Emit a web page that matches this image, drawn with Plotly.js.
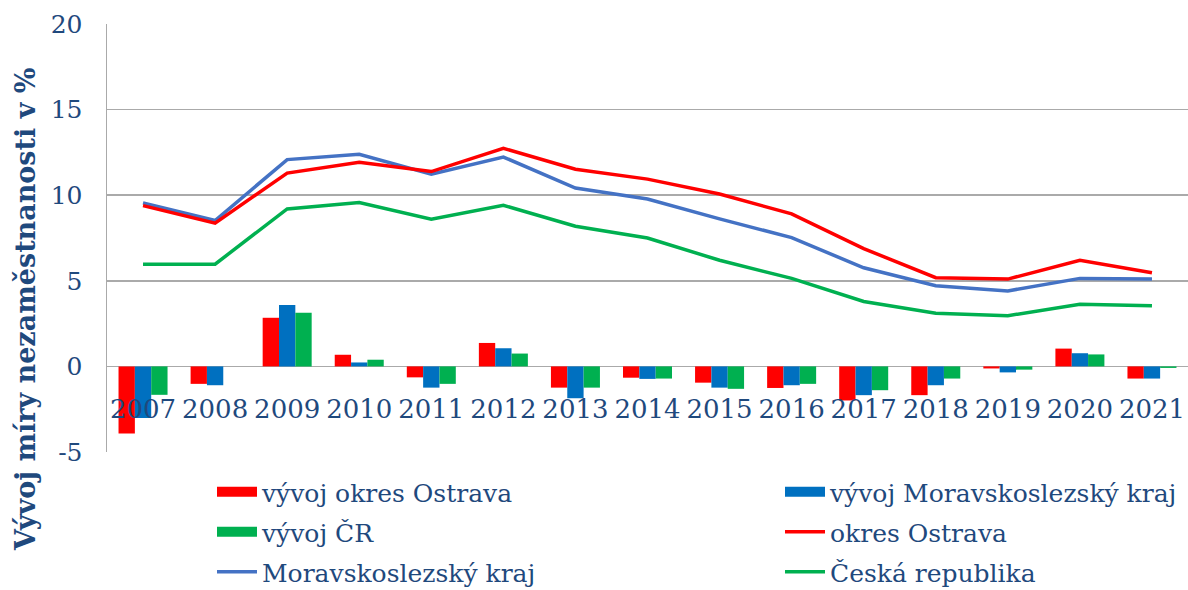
<!DOCTYPE html>
<html>
<head>
<meta charset="utf-8">
<script src="https://cdn.plot.ly/plotly-3.0.1.min.js"></script>
<style>html,body{margin:0;padding:0;background:#fff;}#chart{width:1188px;height:590px;}</style>
</head>
<body>
<div id="chart"></div>
<script>
var years = ['2007','2008','2009','2010','2011','2012','2013','2014','2015','2016','2017','2018','2019','2020','2021'];
var vyvojOstrava = [-3.92, -1.02, 2.84, 0.68, -0.64, 1.37, -1.24, -0.66, -0.95, -1.26, -1.99, -1.68, -0.12, 1.04, -0.71];
var vyvojMSK     = [-3.01, -1.10, 3.59, 0.23, -1.24, 1.06, -1.86, -0.73, -1.24, -1.10, -1.68, -1.10, -0.35, 0.77, -0.71];
var vyvojCR      = [-1.66, 0.00, 3.13, 0.39, -1.02, 0.75, -1.24, -0.71, -1.31, -1.02, -1.39, -0.71, -0.19, 0.70, -0.09];
var okresOstrava = [9.39, 8.37, 11.29, 11.92, 11.38, 12.74, 11.52, 10.94, 10.07, 8.91, 6.88, 5.18, 5.10, 6.20, 5.47];
var msKraj       = [9.55, 8.52, 12.08, 12.39, 11.23, 12.23, 10.42, 9.78, 8.62, 7.52, 5.76, 4.71, 4.41, 5.14, 5.10];
var ceskaRep     = [5.97, 5.97, 9.20, 9.57, 8.60, 9.41, 8.19, 7.50, 6.20, 5.14, 3.79, 3.11, 2.96, 3.63, 3.54];
var yTicks = [-5, 0, 5, 10, 15, 20];
var yTitle = 'Vývoj míry nezaměstnanosti v %';

var txt = '#1F497D';
var font = 'DejaVu Serif';
var grid = 'rgb(170,170,170)';

var traces = [
  {type:'bar', x: years, y: vyvojOstrava, name:'vývoj okres Ostrava', marker:{color:'#FF0000'}, showlegend:false},
  {type:'bar', x: years, y: vyvojMSK, name:'vývoj Moravskoslezský kraj', marker:{color:'#0070C0'}, showlegend:false},
  {type:'bar', x: years, y: vyvojCR, name:'vývoj ČR', marker:{color:'#00B050'}, showlegend:false},
  {type:'scatter', mode:'lines', x: years, y: msKraj, name:'Moravskoslezský kraj', line:{color:'#4472C4', width:3.5}, legend:'legend5'},
  {type:'scatter', mode:'lines', x: years, y: okresOstrava, name:'okres Ostrava', line:{color:'#FF0000', width:3.5}, legend:'legend4'},
  {type:'scatter', mode:'lines', x: years, y: ceskaRep, name:'Česká republika', line:{color:'#00B050', width:3.5}, legend:'legend6'},
  // legend entries for bar series (wide swatches)
  {type:'scatter', mode:'lines', x:[null], y:[null], name:'vývoj okres Ostrava', line:{color:'#FF0000', width:10}, legend:'legend'},
  {type:'scatter', mode:'lines', x:[null], y:[null], name:'vývoj Moravskoslezský kraj', line:{color:'#0070C0', width:10}, legend:'legend2'},
  {type:'scatter', mode:'lines', x:[null], y:[null], name:'vývoj ČR', line:{color:'#00B050', width:10}, legend:'legend3'}
];

var plotL = 107, plotR = 1188, plotT = 24, plotB = 452;
var pw = plotR - plotL, ph = plotB - plotT;
function px(x){ return (x - plotL) / pw; }
function py(y){ return (plotB - y) / ph; }

function leg(x, y){
  return {x: px(x), xanchor:'left', y: py(y), yanchor:'middle', orientation:'h',
    font:{family:font, size:25, color:txt}, bgcolor:'rgba(0,0,0,0)', itemwidth:40, borderwidth:0};
}

var layout = {
  width:1188, height:590,
  margin:{l:plotL, r:1188-plotR, t:plotT, b:590-plotB, pad:0, autoexpand:false},
  paper_bgcolor:'#fff', plot_bgcolor:'#fff',
  barmode:'group', bargap:0.32, bargroupgap:0,
  font:{family:font, color:txt},
  xaxis:{type:'category', range:[-0.5, 14.5], anchor:'free', position:0.2, showgrid:false, showline:false, automargin:false,
    zeroline:false, ticks:'', tickfont:{family:font, size:26, color:txt}, ticklabelstandoff:25, fixedrange:true},
  yaxis:{range:[-5,20], tickvals:yTicks, ticktext:yTicks.map(String), showgrid:true, gridcolor:grid, gridwidth:1.5, automargin:false,
    showline:true, linecolor:grid, linewidth:1.5, zeroline:false, ticks:'', tickfont:{family:font, size:25, color:txt},
    ticklabelstandoff:18, fixedrange:true},
  showlegend:true,
  legend: leg(212, 492),
  legend2: leg(780, 492),
  legend3: leg(212, 532),
  legend4: leg(780, 532),
  legend5: leg(212, 572),
  legend6: leg(780, 572),
  annotations:[{text:'<b>'+yTitle+'</b>', xref:'paper', yref:'paper', x: px(25), y: py(310), xanchor:'center', yanchor:'middle',
    textangle:-90, showarrow:false, font:{family:font, size:27, color:txt}}]
};

Plotly.newPlot('chart', traces, layout, {displayModeBar:false, staticPlot:true});
</script>
</body>
</html>
